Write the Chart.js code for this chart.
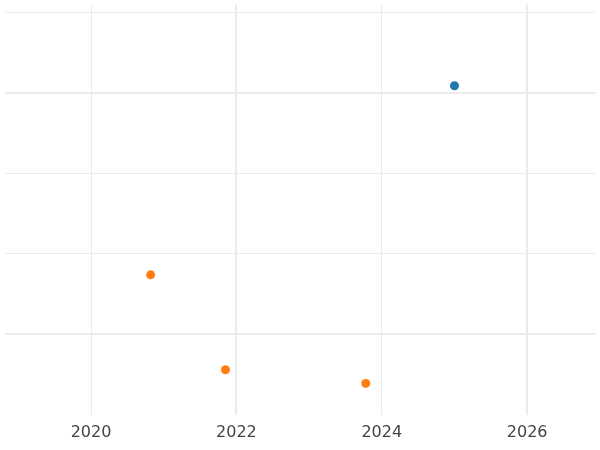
<!DOCTYPE html>
<html>
<head>
<script src="https://cdn.jsdelivr.net/npm/chart.js@4"></script>
<style>
  html, body { margin: 0; padding: 0; background: #fff; }
  #wrap { width: 600px; height: 450px; }
</style>
</head>
<body>
<div id="wrap"><canvas id="chart"></canvas></div>
<script>
const blueX = [2025.0];
const blueY = [3.09];
const orangeX = [2020.82, 2021.85, 2023.78];
const orangeY = [0.74, -0.44, -0.61];
const xTicks = [2020, 2022, 2024, 2026];
const yTicks = [0, 1, 2, 3, 4];

new Chart(document.getElementById('chart'), {
  type: 'scatter',
  data: {
    datasets: [
      {
        data: blueX.map((x, i) => ({ x, y: blueY[i] })),
        backgroundColor: '#1f77b4',
        borderWidth: 0,
        pointRadius: 4.5,
      },
      {
        data: orangeX.map((x, i) => ({ x, y: orangeY[i] })),
        backgroundColor: '#ff7f0e',
        borderWidth: 0,
        pointRadius: 4.5,
      },
    ],
  },
  options: {
    responsive: true,
    maintainAspectRatio: false,
    animation: false,
    layout: { padding: 0 },
    plugins: { legend: { display: false }, tooltip: { enabled: false } },
    scales: {
      x: {
        type: 'linear',
        min: 2018.81,
        max: 2026.94,
        border: { display: false },
        afterBuildTicks: (s) => { s.ticks = xTicks.map((v) => ({ value: v })); },
        grid: {
          drawTicks: false,
          color: '#ebebeb',
          lineWidth: (ctx) => (ctx.tick.value % 4 === 2 ? 2 : 1),
        },
        ticks: {
          autoSkip: false,
          maxRotation: 0,
          padding: 8,
          color: '#444',
          font: { family: 'DejaVu Sans', size: 16 },
          callback: (v) => String(v),
        },
      },
      y: {
        min: -1,
        max: 4.1,
        border: { display: false },
        afterBuildTicks: (s) => { s.ticks = yTicks.map((v) => ({ value: v })); },
        afterFit: (s) => { s.width = 0; },
        grid: {
          drawTicks: false,
          color: '#ebebeb',
          lineWidth: (ctx) => (ctx.tick.value === 0 || ctx.tick.value === 3 ? 2 : 1),
        },
        ticks: { display: false },
      },
    },
  },
});
</script>
</body>
</html>
